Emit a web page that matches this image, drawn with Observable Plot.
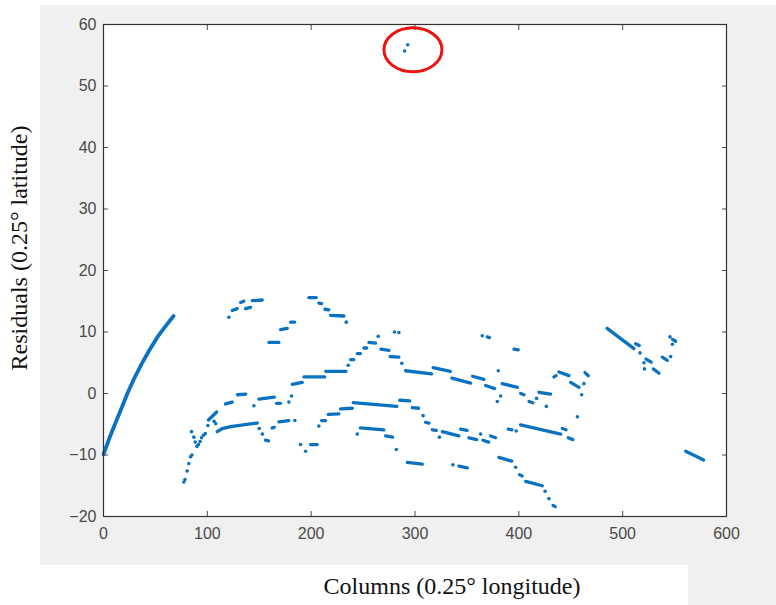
<!DOCTYPE html>
<html><head><meta charset="utf-8">
<script src="https://cdn.jsdelivr.net/npm/d3@7"></script>
<script src="https://cdn.jsdelivr.net/npm/@observablehq/plot@0.6"></script>
<style>
html,body{margin:0;padding:0;background:#fff;}
#chart{position:relative;width:776px;height:605px;overflow:hidden;}
</style></head><body><div id="chart"></div>
<script>
// ---- data ----
const xTicks = [0, 100, 200, 300, 400, 500, 600];
const yTicks = [-20, -10, 0, 10, 20, 30, 40, 50, 60];
const xLabel = "Columns (0.25° longitude)";
const yLabel = "Residuals (0.25° latitude)";

// dense curve at the left (columns 0-68)
const curveX = [0, 6, 12, 18, 23, 30, 37, 44, 52, 60, 67.5];
const curveY = [-9.9, -7.1, -4.6, -2.1, 0, 2.6, 4.9, 7, 9.2, 11, 12.6];

// runs of consecutive dots: [xStart, yStart, xEnd, yEnd]
const runs = [
  [101, -4.3, 109, -3.0],
  [109.5, -6.2, 114.3, -5.7], [114.3, -5.7, 122.3, -5.4], [122.3, -5.4, 148, -4.8],
  [156, -7.6, 159, -7.7], [162.5, -5.6, 164.5, -5.5], [168.9, -4.6, 178.5, -4.4],
  [117.5, -1.7, 124, -1.4], [129, -0.2, 137, -0.1], [149.6, -0.9, 164.5, -0.6], [166.7, -1.6, 170.5, -1.6],
  [181.8, 1.5, 191.4, 1.8], [193, 2.7, 213, 2.7], [214, 3.6, 233.5, 3.6], [238, 5.5, 241, 5.5],
  [244.4, 6.5, 247.5, 6.5], [250.8, 7.4, 253.5, 7.4], [255.6, 8.3, 262, 8.2],
  [267.2, 7.2, 274.9, 7.0], [276, 6.0, 284.5, 5.9], [290.9, 3.7, 316, 3.2], [317.5, 4.2, 334, 3.6],
  [335.5, 2.5, 353.6, 1.7], [355.5, 2.8, 366.4, 2.3], [368, 1.3, 376.7, 0.8], [384, 1.6, 398.6, 1.0],
  [401.7, 0.0, 405, -0.2], [409.8, -1.3, 413.5, -1.5], [419.4, 0.2, 430.6, -0.1], [433.8, 2.7, 436, 2.9],
  [438.6, 3.5, 448.3, 2.9], [449.9, 1.8, 457.9, 1.0], [463.7, 3.4, 466.9, 2.9],
  [210, -4.4, 213.9, -4.4], [216.5, -3.4, 226.7, -3.3], [228.3, -2.5, 239.6, -2.4], [240.5, -1.5, 282.5, -2.1],
  [285.3, -1.1, 295, -1.2], [297.4, -2.3, 303.5, -2.4], [310.2, -4.7, 313.5, -4.8], [316.7, -5.9, 320.5, -6.0],
  [326.3, -6.2, 342.3, -6.9], [343.9, -5.8, 350.2, -6.0], [352, -7.2, 359.5, -7.5], [365.4, -7.6, 371, -7.9],
  [372.8, -6.9, 377.6, -7.2], [389.8, -5.8, 393.5, -5.9], [401.7, -5.1, 440.3, -6.6], [441.9, -5.7, 445.5, -5.9],
  [447.6, -7.2, 452, -7.5],
  [247.3, -5.6, 270, -5.9], [271.7, -6.9, 278.4, -7.1], [199.4, -8.3, 205.9, -8.3],
  [292.6, -11.2, 307, -11.5], [342.3, -11.8, 350.4, -12.1], [380.8, -10.4, 393.1, -11.0],
  [406.6, -14.3, 422.6, -15.0], [432.9, -18.2, 435, -18.4],
  [124, 13.5, 128.8, 13.8], [132, 14.8, 135.2, 15.0], [136.8, 13.8, 141.6, 14.0], [143.3, 15.1, 152.9, 15.2],
  [159.3, 8.3, 168.9, 8.3], [170.5, 10.4, 177, 10.6], [180.2, 11.6, 184, 11.6],
  [197.8, 15.6, 204.9, 15.6], [207.4, 14.7, 210, 14.6], [213.2, 13.7, 217, 13.6], [218.7, 12.7, 231.5, 12.6],
  [369.6, 9.2, 371.8, 9.1], [395.3, 7.2, 399.5, 7.1],
  [485, 10.6, 510.9, 7.3], [512.5, 8.1, 516, 7.8], [522.5, 5.6, 527.5, 5.1], [529.5, 4.0, 535, 3.3],
  [538.2, 5.9, 543, 5.4], [548, 8.8, 551, 8.5], [560.7, -9.4, 578, -10.8]
];

// isolated dots: [x, y]
const dots = [
  [77.4, -14.4], [78.5, -14.0], [80.6, -12.6], [82.2, -11.4], [83.8, -10.3], [85.2, -10.0],
  [84.8, -6.2], [87, -7.1], [88.3, -7.9], [90, -8.6], [91.5, -8.3], [93, -7.8], [94.4, -7.2],
  [96.2, -6.8], [98, -6.5], [100.5, -5.2], [106.5, -4.5], [108, -4.9],
  [150, -5.7], [153, -6.6], [184.3, -4.4],
  [144.8, -2.0], [178.5, -1.4], [181.1, -0.4],
  [235.7, 4.6], [264.6, 9.3], [287.3, 4.9], [380.2, 3.7], [382.5, -0.4], [379.3, -1.3],
  [417.1, -0.8], [426.5, -2.1], [462.7, 1.6], [460.5, -0.2], [456.4, -3.8],
  [207.4, -5.3], [307.8, -3.6], [323.5, -7.1], [363.2, -6.6], [397.5, -6.1],
  [244.4, -6.6], [282, -9.1], [189.8, -8.3], [194.6, -9.4],
  [336.5, -11.6], [396.9, -12.0], [400.8, -13.2], [403, -13.4], [425.3, -15.9], [429, -17.1],
  [120.7, 12.4], [233.8, 11.6], [280.3, 10.0], [284.5, 9.9], [364.8, 9.4],
  [516.7, 6.6], [520.5, 5.0], [521, 4.0], [546.2, 6.0], [545.6, 9.2], [547.9, 8.0]
];

// the two circled outliers
const outliers = [[293, 56.7], [290, 55.7]];
// centre of the red ring (data units)
const ringX = 298.5, ringY = 55.8;

// ---- chart ----
const blue = "#0a72c0";
const curve = curveX.map((x, i) => ({x, y: curveY[i]}));

const plot = Plot.plot({
  width: 776, height: 605,
  marginLeft: 103, marginRight: 50, marginTop: 24, marginBottom: 89,
  style: {background: "transparent", fontFamily: "'Liberation Sans', Arial, sans-serif", fontSize: "16px", color: "#4a4a4a"},
  x: {domain: [0, 600]},
  y: {domain: [-20, 60]},
  marks: [
    Plot.frame({fill: "white", stroke: null}),
    Plot.line(curve, {x: "x", y: "y", stroke: blue, strokeWidth: 3.8, strokeLinecap: "round"}),
    Plot.link(runs, {x1: d => d[0], y1: d => d[1], x2: d => d[2], y2: d => d[3], stroke: blue, strokeWidth: 3.3, strokeLinecap: "round"}),
    Plot.dot(dots, {x: d => d[0], y: d => d[1], r: 1.8, fill: blue, stroke: null}),
    Plot.dot(outliers, {x: d => d[0], y: d => d[1], r: 1.8, fill: blue, stroke: null}),
    Plot.axisX(xTicks, {anchor: "bottom", tickSize: -5, tickPadding: 16, label: null}),
    Plot.axisX(xTicks, {anchor: "top", tickSize: -5, tickFormat: () => "", label: null}),
    Plot.axisY(yTicks, {anchor: "left", tickSize: -5, tickPadding: 12, label: null}),
    Plot.axisY(yTicks, {anchor: "right", tickSize: -5, tickFormat: () => "", label: null}),
    Plot.frame({stroke: "#333333", strokeWidth: 1.2})
  ]
});

const svg = d3.select(plot);
// grey figure background (MATLAB window)
svg.insert("rect", ":first-child").attr("x", 688).attr("y", 565).attr("width", 88).attr("height", 40).attr("fill", "#f0f0f0");
svg.insert("rect", ":first-child").attr("x", 40).attr("y", 5).attr("width", 736).attr("height", 560).attr("fill", "#f0f0f0");
svg.insert("rect", ":first-child").attr("x", 0).attr("y", 0).attr("width", 776).attr("height", 605).attr("fill", "#ffffff");

const sx = plot.scale("x"), sy = plot.scale("y");
svg.append("ellipse")
  .attr("cx", sx.apply(ringX)).attr("cy", sy.apply(ringY))
  .attr("rx", 29).attr("ry", 22)
  .attr("fill", "none").attr("stroke", "#ee1111").attr("stroke-width", 3);

svg.append("text").text(xLabel)
  .attr("x", 452).attr("y", 594).attr("text-anchor", "middle")
  .attr("font-family", "'Liberation Serif', 'Times New Roman', serif").attr("font-size", 24).attr("fill", "#111");
svg.append("text").text(yLabel)
  .attr("transform", "translate(27,248) rotate(-90)").attr("text-anchor", "middle")
  .attr("font-family", "'Liberation Serif', 'Times New Roman', serif").attr("font-size", 24).attr("fill", "#111");

document.getElementById("chart").appendChild(plot);
</script></body></html>
